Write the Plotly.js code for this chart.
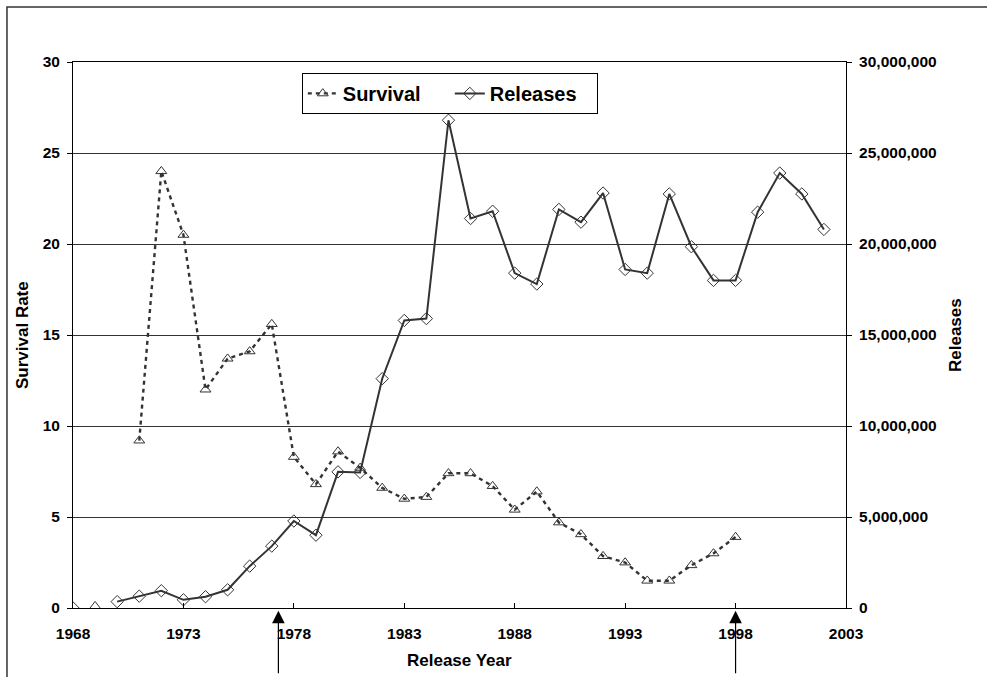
<!DOCTYPE html>
<html>
<head>
<meta charset="utf-8">
<script src="https://cdn.plot.ly/plotly-3.0.1.min.js"></script>
<style>
  html, body { margin: 0; padding: 0; background: #fff; }
  #chart { width: 987px; height: 677px; }
</style>
</head>
<body>
<div id="chart"></div>
<script>
// ---- data ----
const years = [1968,1969,1970,1971,1972,1973,1974,1975,1976,1977,1978,1979,1980,1981,1982,1983,1984,1985,
               1986,1987,1988,1989,1990,1991,1992,1993,1994,1995,1996,1997,1998,1999,2000,2001,2002];
const survival = [null,0.1,null,9.2,24.0,20.5,12.0,13.7,14.1,15.6,8.3,6.8,8.6,7.7,6.6,6.0,6.1,7.4,
                  7.4,6.7,5.4,6.4,4.7,4.05,2.85,2.5,1.5,1.5,2.35,3.0,3.9,null,null,null,null];
const releases = [0,null,350000,650000,950000,450000,620000,1000000,2300000,3400000,4780000,4000000,7480000,7450000,12600000,15800000,15900000,26800000,
                  21400000,21800000,18400000,17800000,21900000,21200000,22800000,18600000,18400000,22750000,19850000,18000000,18000000,21750000,23900000,22750000,20800000];
const arrowYears = [1977.3, 1998];
const xTickVals = [1968,1973,1978,1983,1988,1993,1998,2003];
const seriesNames = ['Survival','Releases'];

const lineColor = '#333333';
const fontFam = 'Liberation Sans, Arial, sans-serif';

const traces = [
  {
    x: years, y: survival, name: seriesNames[0], type: 'scatter', mode: 'lines+markers',
    line: {color: lineColor, width: 2.4, dash: '4px,4px'},
    marker: {symbol: 'triangle-up-open', size: 9.5, color: lineColor, line: {width: 1, color: lineColor}},
    yaxis: 'y', connectgaps: false
  },
  {
    x: years, y: releases, name: seriesNames[1], type: 'scatter', mode: 'lines+markers',
    line: {color: lineColor, width: 2},
    marker: {symbol: 'diamond-open', size: 9.5, color: lineColor, line: {width: 1, color: lineColor}},
    yaxis: 'y2', connectgaps: false
  }
];

const titleFont = {family: fontFam, size: 17, color: '#000', weight: 'bold'};
const annotations = arrowYears.map(yr => ({
  x: yr, xref: 'x', y: -0.005, yref: 'paper', text: '', showarrow: true,
  ax: 0, ay: 64, axref: 'pixel', ayref: 'pixel',
  arrowhead: 2, arrowsize: 2.1, arrowwidth: 1.2, arrowcolor: '#000'
}));
annotations.push(
  {x: -0.066, xref: 'paper', y: 0.5, yref: 'paper', xanchor: 'center', yanchor: 'middle',
   text: 'Survival Rate', textangle: -90, showarrow: false, font: titleFont},
  {x: 1.141, xref: 'paper', y: 0.5, yref: 'paper', xanchor: 'center', yanchor: 'middle',
   text: 'Releases', textangle: -90, showarrow: false, font: titleFont},
  {x: 0.5, xref: 'paper', y: -0.097, yref: 'paper', xanchor: 'center', yanchor: 'middle',
   text: 'Release Year', showarrow: false, font: titleFont}
);

const tickFont = {family: fontFam, size: 15.5, color: '#000', weight: 'bold'};

const layout = {
  width: 987, height: 677,
  margin: {l: 73, r: 141, t: 62, b: 69, pad: 0},
  paper_bgcolor: '#fff', plot_bgcolor: '#fff',
  font: {family: fontFam, color: '#000'},
  showlegend: true,
  legend: {
    orientation: 'h', x: 0.296, y: 0.98, xanchor: 'left', yanchor: 'top',
    bgcolor: '#fff', bordercolor: '#000', borderwidth: 1,
    font: {family: fontFam, size: 20, color: '#000', weight: 'bold'},
    itemwidth: 30, entrywidth: 102
  },
  xaxis: {
    range: [1968, 2003], tickvals: xTickVals, ticktext: xTickVals.map(String),
    ticks: 'inside', ticklen: 5, tickcolor: '#000', showgrid: false, zeroline: false,
    showline: true, linecolor: '#000', linewidth: 1, mirror: true,
    tickfont: tickFont, ticklabelstandoff: 11
  },
  yaxis: {
    range: [0, 30], dtick: 5, tick0: 0, ticks: 'outside', ticklen: 5, tickcolor: '#000',
    showgrid: true, gridcolor: '#333', gridwidth: 1, zeroline: false,
    showline: true, linecolor: '#000', linewidth: 1, tickfont: tickFont, ticklabelstandoff: 4
  },
  yaxis2: {
    overlaying: 'y', side: 'right', range: [0, 30000000], dtick: 5000000, tick0: 0,
    tickformat: ',d', ticks: 'outside', ticklen: 5, tickcolor: '#000',
    showgrid: false, zeroline: false, showline: true, linecolor: '#000', linewidth: 1,
    tickfont: tickFont, ticklabelstandoff: 4
  },
  annotations: annotations,
  shapes: [{
    type: 'rect', xref: 'paper', yref: 'paper',
    x0: -0.0854, x1: 1.4, y0: -0.3, y1: 1.1007,
    line: {color: '#333', width: 1.5}, fillcolor: 'rgba(0,0,0,0)', layer: 'below'
  }]
};

Plotly.newPlot('chart', traces, layout, {displayModeBar: false, staticPlot: true});
</script>
</body>
</html>
